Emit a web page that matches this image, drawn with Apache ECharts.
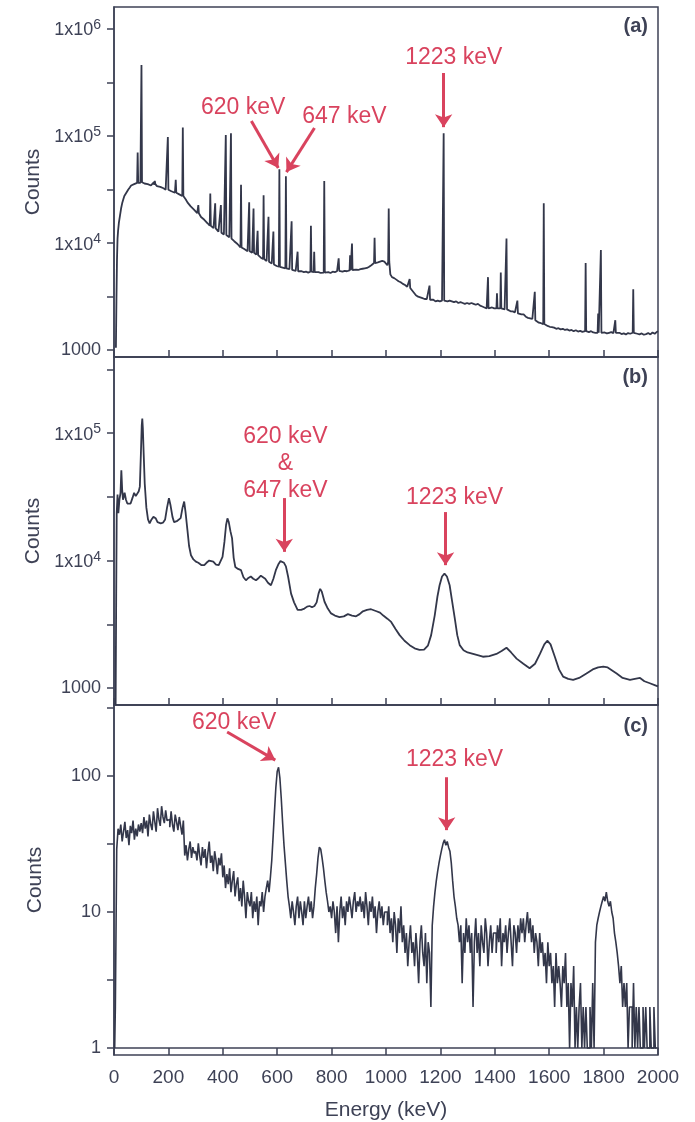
<!DOCTYPE html>
<html>
<head>
<meta charset="utf-8">
<script src="https://cdn.jsdelivr.net/npm/echarts@6/dist/echarts.min.js"></script>
<style>
html, body { margin: 0; padding: 0; background: #fff; }
#spectra { width: 695px; height: 1122px; }
</style>
</head>
<body>
<div id="spectra"></div>
<script>
// (a) continuum, [energy keV, counts]
var continuumA = [[7,1050],[9,3000],[11,7000],[13,11000],[15,13000],[18,15500],[22,18000],[26,21000],[30,23500],[34,25500],[38,27500],[42,28500],[47,30000],[52,31500],[58,33000],[63,34500],[68,35000],[74,35500],[80,36000],[92,37000],[97,36500],[106,37500],[112,36000],[118,35000],[124,35500],[130,36000],[136,34500],[142,35500],[147,37000],[152,35500],[158,34000],[164,34500],[170,33500],[176,33000],[182,32500],[190,31500],[205,31000],[211,30500],[218,30000],[224,29500],[233,29000],[240,28500],[247,28000],[258,27000],[264,25500],[270,24000],[276,23000],[282,22000],[288,21500],[294,20500],[300,19700],[306,19000],[314,18200],[320,17500],[326,17000],[332,16500],[338,16000],[344,15300],[350,14700],[360,14000],[366,13800],[378,13200],[384,12800],[390,12500],[398,12200],[404,12000],[418,11600],[424,11300],[436,10800],[442,10400],[448,10000],[454,9800],[460,9500],[473,9000],[479,8800],[485,8600],[491,8400],[503,8200],[508,8100],[518,7900],[523,7800],[533,7500],[540,7300],[545,7200],[555,7000],[561,6800],[574,6600],[580,6450],[592,6200],[598,6100],[603,6050],[614,5950],[620,5900],[626,5850],[638,5750],[645,5700],[660,5550],[668,5500],[682,5400],[690,5450],[698,5350],[706,5400],[714,5300],[730,5400],[744,5300],[752,5350],[760,5250],[767,5300],[780,5300],[788,5350],[796,5250],[804,5400],[812,5350],[820,5450],[832,5500],[840,5400],[848,5500],[856,5450],[862,5550],[882,5600],[890,5650],[898,5600],[906,5700],[914,5750],[922,5800],[930,5850],[938,6000],[946,6200],[952,6400],[964,6500],[970,6600],[978,6700],[986,6800],[994,6700],[1000,6500],[1005,6200],[1016,5100],[1022,4800],[1030,4700],[1038,4550],[1046,4400],[1054,4300],[1062,4150],[1070,4050],[1078,3900],[1094,3650],[1102,3450],[1110,3250],[1118,3150],[1126,3100],[1134,3050],[1142,3000],[1150,3000],[1156,2950],[1166,2900],[1174,2950],[1182,2850],[1190,2900],[1198,2850],[1206,2900],[1218,2950],[1226,2850],[1234,2900],[1242,2850],[1250,2800],[1258,2850],[1266,2750],[1274,2800],[1282,2750],[1290,2700],[1298,2750],[1306,2700],[1314,2750],[1322,2700],[1330,2650],[1338,2700],[1346,2600],[1354,2550],[1362,2500],[1370,2450],[1382,2450],[1390,2500],[1398,2450],[1414,2450],[1430,2400],[1436,2400],[1450,2350],[1458,2300],[1466,2300],[1474,2250],[1490,2200],[1498,2150],[1506,2150],[1514,2050],[1522,2000],[1530,1980],[1538,1950],[1554,1850],[1562,1800],[1570,1780],[1586,1720],[1594,1680],[1602,1650],[1610,1640],[1618,1620],[1626,1580],[1634,1600],[1642,1560],[1650,1580],[1658,1540],[1666,1560],[1674,1520],[1682,1540],[1690,1500],[1698,1530],[1706,1490],[1714,1510],[1722,1480],[1728,1500],[1740,1490],[1746,1470],[1754,1500],[1762,1460],[1770,1450],[1784,1470],[1796,1440],[1804,1460],[1812,1430],[1820,1450],[1828,1470],[1836,1440],[1850,1430],[1858,1450],[1866,1410],[1874,1430],[1882,1400],[1890,1440],[1898,1420],[1904,1450],[1916,1440],[1924,1420],[1932,1400],[1940,1430],[1948,1390],[1956,1410],[1964,1440],[1972,1400],[1980,1460],[1988,1420],[1996,1480],[2000,1500]];

// (a) sharp lines, [energy keV, base counts, top counts]
var peaksA = [[87,36500,70000],[101,37000,460000],[150,35000,38000],[198,31500,98000],[227,29500,39000],[253,27500,120000],[310,19000,22600],[354,14500,29000],[372,13700,23500],[393,12500,22600],[411,11900,102000],[430,11000,106000],[467,9100,35000],[497,8400,24000],[513,8100,21000],[528,7700,13000],[550,7100,28000],[568,6700,17600],[586,6300,12800],[608,6000,49000],[632,5800,42000],[653,5600,16000],[675,5450,8300],[724,5400,14500],[736,5350,8300],[773,5300,38000],[826,5500,7200],[868,5550,7700],[875,5600,9900],[958,6500,11200],[1010,6700,21000],[1087,3800,4600],[1160,2950,4000],[1212,2900,106000],[1375,2450,4800],[1408,2450,3400],[1422,2450,5300],[1443,2400,11000],[1483,2200,2900],[1547,1900,3500],[1580,1750,23500],[1734,1500,6500],[1780,1450,2200],[1790,1450,8600],[1843,1450,1900],[1909,1450,3700]];

// (b) low-resolution spectrum, [energy keV, counts]
var spectrumB = [[6,740],[8,5000],[10,23500],[13,33000],[16,23500],[20,30000],[24,34000],[27,51000],[30,36000],[33,30000],[39,34000],[44,30000],[49,28000],[55,29000],[61,28000],[68,31000],[74,34000],[80,32000],[86,32000],[91,35000],[95,38000],[99,70000],[102,115000],[104,130000],[106,110000],[109,70000],[113,40000],[119,26000],[125,21000],[131,19600],[138,21000],[145,22000],[153,21500],[160,20000],[172,19600],[180,19800],[188,21000],[195,26000],[202,30800],[208,27000],[215,22000],[221,20000],[227,19600],[233,20500],[239,20000],[245,21500],[252,26000],[258,29000],[263,24000],[270,17300],[276,13000],[283,11000],[292,10200],[301,9800],[310,9600],[322,9200],[332,9200],[340,9600],[350,10000],[357,10300],[365,9800],[375,9300],[385,9200],[392,9500],[399,10700],[406,14000],[412,19000],[417,21400],[422,20000],[428,17000],[434,15000],[440,10500],[446,8900],[456,8600],[467,8400],[476,7400],[485,7000],[494,7300],[503,7500],[512,7200],[522,7000],[532,7300],[540,7600],[547,7600],[556,7200],[566,6700],[577,6400],[586,7200],[595,8400],[605,9400],[612,9900],[618,10000],[625,9600],[632,9000],[640,7500],[651,5500],[662,4700],[675,4100],[688,4100],[700,4200],[710,4350],[719,4400],[728,4300],[737,4400],[745,4700],[752,5500],[758,6000],[764,5700],[774,4750],[786,4200],[798,3850],[812,3700],[829,3600],[845,3650],[860,3800],[875,3700],[890,3650],[903,3800],[915,4000],[930,4100],[945,4150],[952,4100],[965,4000],[978,3900],[990,3700],[1005,3500],[1019,3300],[1035,2900],[1050,2600],[1068,2350],[1087,2170],[1105,2050],[1123,1990],[1140,2000],[1154,2150],[1166,2600],[1179,3700],[1189,5200],[1197,6400],[1206,7500],[1215,7900],[1224,7500],[1234,6400],[1243,4800],[1253,3500],[1262,2600],[1271,2170],[1285,1980],[1300,1900],[1320,1850],[1340,1800],[1356,1760],[1380,1780],[1406,1850],[1425,1950],[1443,2070],[1460,1900],[1480,1700],[1505,1550],[1528,1430],[1548,1550],[1566,1850],[1582,2200],[1593,2350],[1605,2200],[1621,1750],[1636,1400],[1651,1230],[1670,1180],[1688,1160],[1710,1200],[1737,1300],[1760,1400],[1780,1450],[1799,1470],[1815,1450],[1830,1380],[1848,1300],[1870,1200],[1897,1160],[1915,1180],[1934,1200],[1950,1130],[1970,1090],[1990,1050],[2000,1030]];

// (c) histogram counts, 5 keV bins from 0 keV
var binWidthC = 5;
var countsC = [
  1, 2, 29, 41, 37, 44, 33, 39, 46, 35, 40, 31, 43, 38, 47, 34, 41, 36, 44, 39,
  45, 38, 50, 41, 47, 36, 52, 44, 40, 55, 46, 39, 58, 48, 43, 60, 50, 45, 56, 47,
  48, 42, 55, 44, 39, 52, 46, 40, 50, 43, 37, 47, 26, 31, 24, 29, 33, 25, 30, 27,
  28, 24, 32, 26, 22, 30, 25, 29, 21, 27, 33, 23, 26, 20, 28, 24, 19, 25, 22, 27,
  18, 22, 15, 19, 16, 21, 14, 17, 20, 13, 16, 18, 12, 15, 11, 17, 13, 9, 14, 12,
  11, 14, 9, 12, 10, 13, 8, 12, 11, 14, 10, 13, 15, 17, 14, 18, 24, 36, 55, 82,
  108, 116, 96, 68, 45, 31, 23, 17, 13, 11, 9, 12, 10, 8, 11, 13, 9, 12, 10, 8,
  12, 9, 11, 13, 10, 12, 9, 11, 15, 19, 25, 30, 29, 25, 21, 17, 14, 12, 10, 11,
  9, 12, 10, 7, 11, 6, 10, 13, 9, 11, 8, 12, 10, 13, 11, 9, 12, 14, 10, 12,
  11, 13, 10, 12, 9, 14, 11, 8, 12, 10, 13, 9, 11, 7, 10, 12, 9, 11, 8, 10,
  10, 8, 11, 7, 9, 6, 10, 8, 5, 9, 7, 11, 6, 8, 5, 7, 4, 6, 8, 5,
  6, 4, 7, 5, 3, 6, 8, 5, 4, 7, 3, 6, 5, 2, 8, 11, 14, 17, 20, 23,
  26, 29, 32, 34, 31, 33, 30, 28, 23, 17, 13, 11, 9, 8, 6, 8, 3, 7, 5, 9,
  6, 8, 5, 7, 2, 6, 9, 5, 7, 4, 8, 6, 5, 9, 7, 4, 6, 8, 5, 7,
  7, 5, 8, 6, 9, 4, 7, 6, 8, 5, 7, 9, 6, 4, 8, 7, 5, 8, 6, 9,
  7, 9, 6, 8, 10, 7, 9, 6, 8, 5, 7, 6, 4, 7, 5, 6, 4, 5, 3, 6,
  4, 5, 3, 4, 2, 5, 3, 4, 3, 2, 4, 3, 5, 2, 3, 1, 3, 2, 4, 1,
  2, 1, 2, 3, 1, 2, 1, 2, 1, 1, 2, 1, 3, 1, 6, 8, 9, 10, 11, 12,
  13, 12, 14, 12, 11, 12, 10, 9, 7, 6, 5, 4, 3, 4, 2, 3, 2, 3, 1, 2,
  2, 1, 3, 1, 2, 1, 2, 1, 1, 2, 1, 2, 1, 1, 2, 1, 1, 2, 1, 1
];

// labelled decades per panel; ticks also at half decades (log10 units)
var decadesA = [1000, 1e4, 1e5, 1e6];
var decadesB = [1000, 1e4, 1e5];
var decadesC = [1, 10, 100];
var tickLogsA = [3, 3.5, 4, 4.5, 5, 5.5, 6];
var tickLogsB = [3, 3.5, 4, 4.5, 5, 5.5];
var tickLogsC = [0, 0.5, 1, 1.5, 2, 2.5];

// line spectrum: continuum plus narrow spikes
var dataA = continuumA.slice();
peaksA.forEach(function (p) {
  dataA.push([p[0] - 2, p[1]], [p[0], p[2]], [p[0] + 2, p[1]]);
});
dataA.sort(function (a, b) { return a[0] - b[0]; });

var dataC = countsC.map(function (v, i) { return [i * binWidthC + binWidthC / 2, v]; });

var ink = '#33374a';
var axisInk = '#3e4256';
var red = '#d9435e';
var font = "'Liberation Sans', Arial, sans-serif";

function yLabel(v) {
  var e = Math.round(Math.log10(v));
  if (e <= 3) return String(Math.pow(10, e));
  return '{b|1x10}{s|' + e + '}';
}

function yAxis(idx, min, max, decades) {
  return {
    type: 'log', logBase: 10, gridIndex: idx, min: min, max: max,
    name: 'Counts', nameLocation: 'middle', nameGap: 68,
    nameTextStyle: { fontSize: 21, color: axisInk, fontFamily: font },
    axisLine: { show: true, lineStyle: { color: axisInk, width: 1.5 } },
    axisTick: { show: false },
    minorTick: { show: false },
    splitLine: { show: false },
    axisLabel: {
      customValues: decades,
      margin: 13, fontSize: 18, color: axisInk, fontFamily: font,
      formatter: yLabel,
      rich: {
        b: { fontSize: 18, color: axisInk, fontFamily: font, padding: [3, 0, 0, 0] },
        s: { fontSize: 14, color: axisInk, fontFamily: font, verticalAlign: 'top' }
      }
    }
  };
}

// tick-only axis laid over the log axis, counted in log10 units
function tickAxis(idx, min, max, tickLogs) {
  return {
    type: 'value', gridIndex: idx, position: 'left',
    min: Math.log10(min), max: Math.log10(max),
    axisLine: { show: false },
    axisLabel: { show: false },
    splitLine: { show: false },
    axisTick: {
      show: true, inside: false, length: 7, customValues: tickLogs,
      lineStyle: { color: axisInk, width: 1.5 }
    }
  };
}

function xAxis(idx, last) {
  return {
    type: 'value', gridIndex: idx, min: 0, max: 2000, interval: 200,
    name: last ? 'Energy (keV)' : '', nameLocation: 'middle', nameGap: 45,
    nameTextStyle: { fontSize: 21, color: axisInk, fontFamily: font },
    axisLine: { show: true, lineStyle: { color: axisInk, width: 1.5 } },
    axisTick: { show: true, inside: !last, length: 7, lineStyle: { color: axisInk, width: 1.5 } },
    splitLine: { show: false },
    axisLabel: {
      show: last, margin: 13, fontSize: 19, color: axisInk, fontFamily: font,
      formatter: function (v) { return String(v); }
    }
  };
}

function notes(texts, arrows) {
  return {
    markPoint: {
      silent: true, symbol: 'circle', symbolSize: 1,
      itemStyle: { color: 'rgba(0,0,0,0)' },
      label: {
        show: true, position: 'inside', formatter: '{b}',
        fontSize: 23, lineHeight: 27, color: red, fontFamily: font, align: 'center'
      },
      data: texts.map(function (t) { return { name: t[0], coord: t[1] }; })
    },
    markLine: {
      silent: true, symbol: ['none', 'arrow'], symbolSize: 13,
      label: { show: false },
      lineStyle: { color: red, width: 3, type: 'solid' },
      itemStyle: { color: red },
      emphasis: { disabled: true },
      data: arrows.map(function (a) { return [{ coord: a[0] }, { coord: a[1] }]; })
    }
  };
}

function series(idx, data, step, width, extra) {
  var s = {
    type: 'line', xAxisIndex: idx, yAxisIndex: idx, data: data,
    showSymbol: false, symbol: 'none', step: step,
    lineStyle: { color: ink, width: width },
    emphasis: { disabled: true }
  };
  return Object.assign(s, extra);
}

var grids = [
  { left: 114, right: 37, top: 7, height: 350 },
  { left: 114, right: 37, top: 357, height: 348 },
  { left: 114, right: 37, top: 705, height: 350 }
].map(function (g) {
  return Object.assign(g, { show: true, borderColor: axisInk, borderWidth: 1.5, backgroundColor: 'rgba(0,0,0,0)' });
});

var panelTitle = function (text, top) {
  return { text: text, right: 42, top: top, textStyle: { fontSize: 20, fontWeight: 'bold', color: axisInk, fontFamily: font } };
};

var rangeA = [861, 1.606e6], rangeB = [736, 3.95e5], rangeC = [0.888, 333];

var chart = echarts.init(document.getElementById('spectra'));
chart.setOption({
  animation: false,
  backgroundColor: '#ffffff',
  title: [panelTitle('(a)', 11), panelTitle('(b)', 362), panelTitle('(c)', 711)],
  grid: grids,
  xAxis: [xAxis(0, false), xAxis(1, false), xAxis(2, true)],
  yAxis: [
    yAxis(0, rangeA[0], rangeA[1], decadesA),
    yAxis(1, rangeB[0], rangeB[1], decadesB),
    yAxis(2, rangeC[0], rangeC[1], decadesC),
    tickAxis(0, rangeA[0], rangeA[1], tickLogsA),
    tickAxis(1, rangeB[0], rangeB[1], tickLogsB),
    tickAxis(2, rangeC[0], rangeC[1], tickLogsC)
  ],
  series: [
    series(0, dataA, false, 1.8, notes(
      [['620 keV', [475, 1.83e5]], ['647 keV', [847, 1.51e5]], ['1223 keV', [1249, 5.36e5]]],
      [[[505, 1.38e5], [604, 5.02e4]], [[737, 1.19e5], [634, 4.6e4]], [[1212, 3.88e5], [1212, 1.21e5]]]
    )),
    series(1, spectrumB, false, 1.8, notes(
      [['620 keV\n&\n647 keV', [630, 5.71e4]], ['1223 keV', [1252, 3.09e4]]],
      [[[626, 3.09e4], [626, 1.17e4]], [[1219, 2.4e4], [1219, 9.2e3]]]
    )),
    series(2, dataC, 'middle', 1.6, notes(
      [['620 keV', [442, 249]], ['1223 keV', [1252, 131]]],
      [[[416, 211], [593, 131]], [[1223, 98], [1223, 40]]]
    ))
  ]
});
</script>
</body>
</html>
